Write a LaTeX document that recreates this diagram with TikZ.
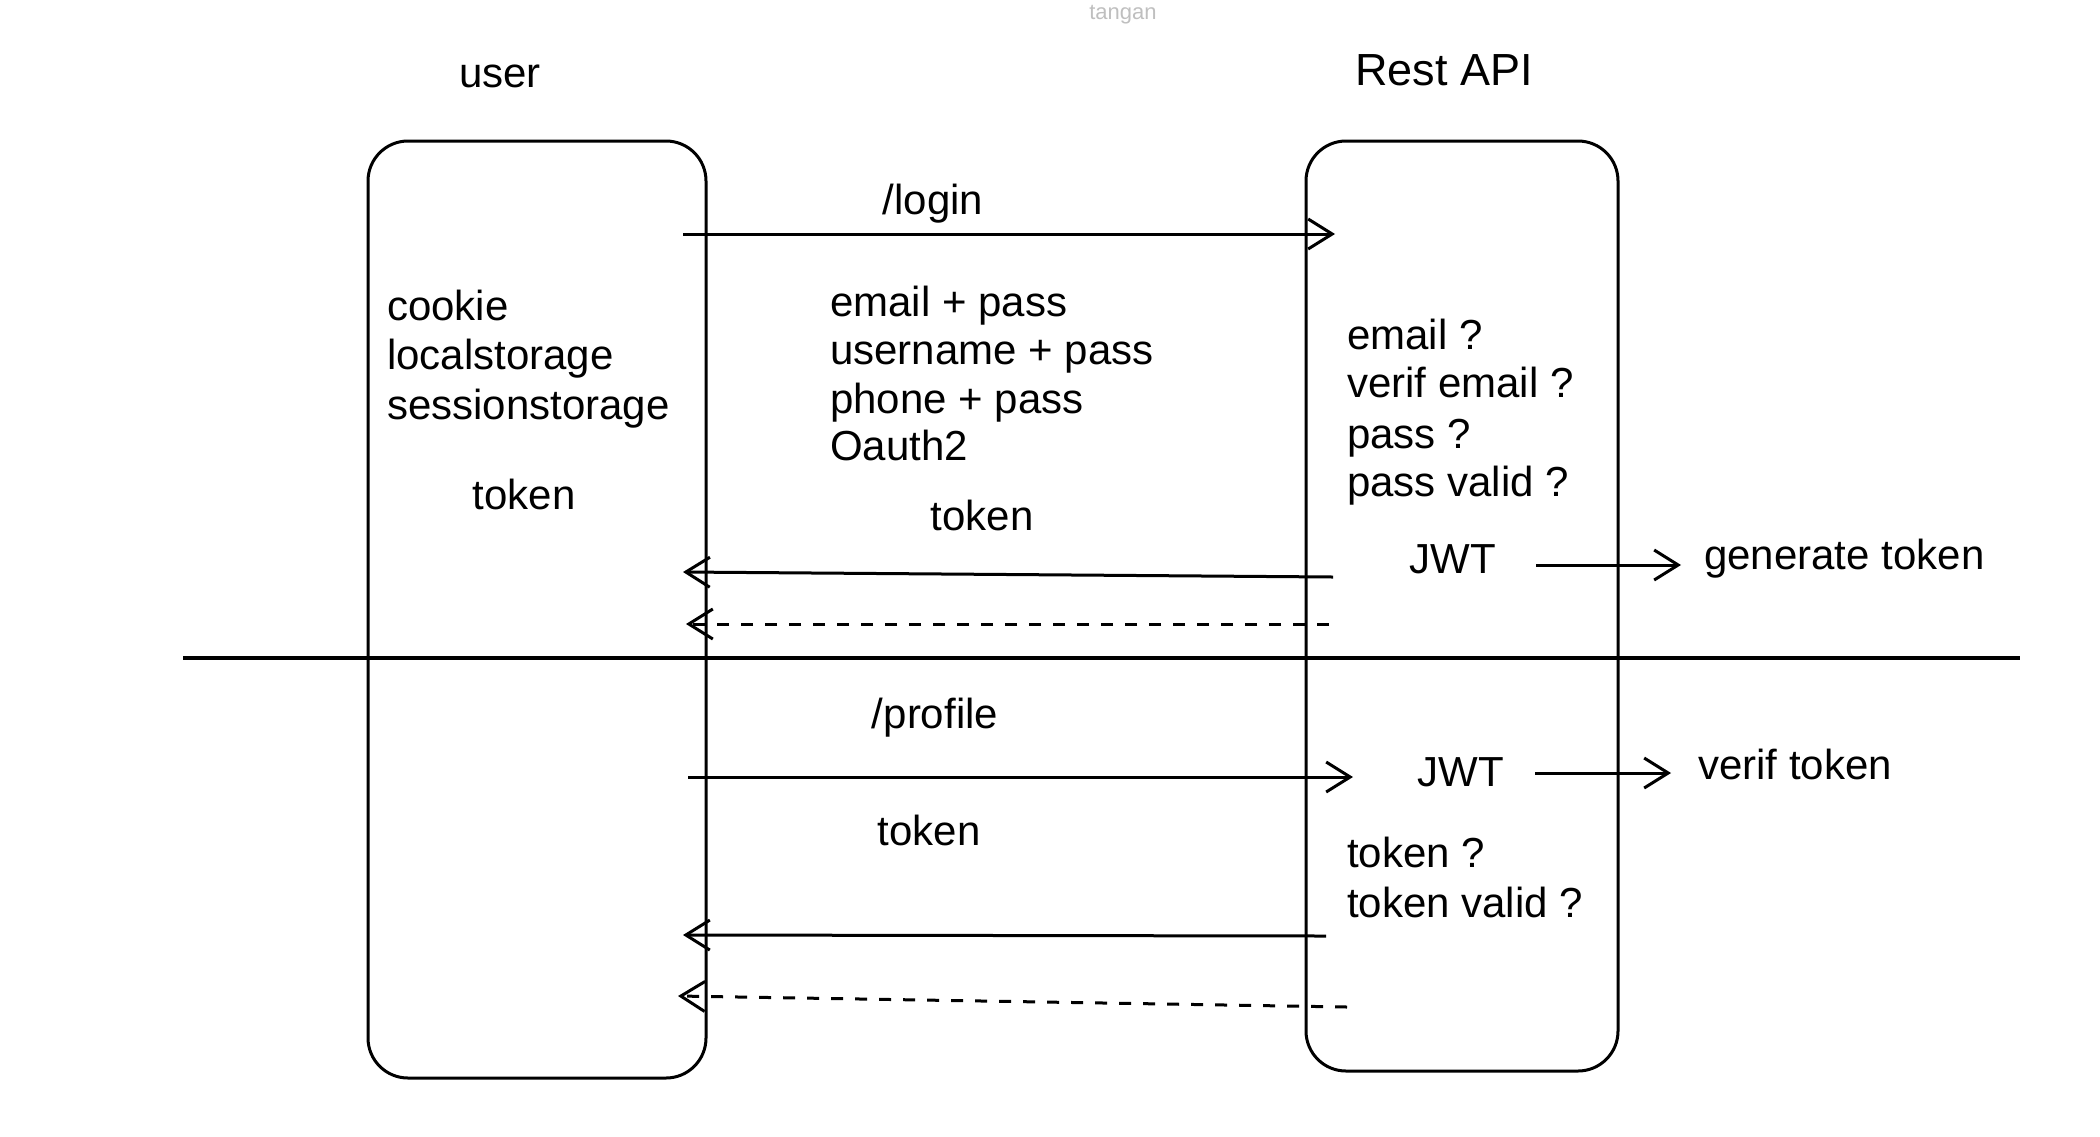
\documentclass[tikz,border=0pt]{standalone}
\usepackage{fontspec}
\setmainfont{Liberation Sans}
\usetikzlibrary{arrows.meta}
\begin{document}
\begin{tikzpicture}[x=1pt,y=-1pt,
  lbl/.style={font=\fontsize{42}{48}\selectfont, inner sep=0pt, anchor=base west},
  lblc/.style={font=\fontsize{42}{48}\selectfont, inner sep=0pt, anchor=base},
  box/.style={draw, line width=3pt, rounded corners=40pt},
  conn/.style={line width=3pt, -{Straight Barb[length=24pt,width=30pt,line width=3pt]}},
  dconn/.style={conn, dash pattern=on 12pt off 12pt}]
\useasboundingbox (0,0) rectangle (2100,1136);
% faint top label
\node[font=\fontsize{22}{26}\selectfont, text=black!25, inner sep=0pt, anchor=base] (tangan) at (1123,19) {tangan};
% titles
\node[lblc] (user) at (500,87) {user};
\node[lblc, font=\fontsize{45}{50}\selectfont] (api) at (1444,85) {Rest API};
% lifeline boxes
\draw[box] (368,141) rectangle (706,1078);
\draw[box] (1306,141) rectangle (1618,1071);
% separator
\coordinate (sepL) at (183,658);
\coordinate (sepR) at (2020,658);
\draw[line width=3.5pt] (sepL) -- (sepR);
% left storage text
\node[lbl] (cookie) at (387,320) {cookie};
\node[lbl] (local) at (387,369) {localstorage};
\node[lbl] (session) at (387,419) {sessionstorage};
\node[lblc] (utoken) at (524,509) {token};
% login
\node[lblc] (login) at (933,214) {/login};
\coordinate (l1s) at (683,234);
\coordinate (l1e) at (1335,234);
\draw[conn] (l1s) -- (l1e);
\node[lbl] (m1) at (830,316) {email + pass};
\node[lbl] (m2) at (830,364) {username + pass};
\node[lbl] (m3) at (830,413) {phone + pass};
\node[lbl] (m4) at (830,460) {Oauth2};
\node[lblc] (rtoken) at (982,530) {token};
\coordinate (r1s) at (1333,577);
\coordinate (r1e) at (683,572);
\draw[conn] (r1s) -- (r1e);
\coordinate (d1s) at (1329,624);
\coordinate (d1e) at (686,624);
\draw[dconn] (d1s) -- (d1e);
% API checks
\node[lbl] (c1) at (1347,349) {email ?};
\node[lbl] (c2) at (1347,397) {verif email ?};
\node[lbl] (c3) at (1347,448) {pass ?};
\node[lbl] (c4) at (1347,496) {pass valid ?};
\node[lblc] (jwt1) at (1453,573) {JWT};
\node[lbl] (gen) at (1704,569) {generate token};
\coordinate (g1s) at (1536,565);
\coordinate (g1e) at (1681,565);
\draw[conn] (g1s) -- (g1e);
% profile
\node[lblc] (profile) at (935,728) {/profile};
\coordinate (p1s) at (688,777);
\coordinate (p1e) at (1353,777);
\draw[conn] (p1s) -- (p1e);
\node[lblc] (ptoken) at (929,845) {token};
\node[lblc] (jwt2) at (1461,786) {JWT};
\node[lbl] (vt) at (1698,779) {verif token};
\coordinate (v1s) at (1535,773);
\coordinate (v1e) at (1671,773);
\draw[conn] (v1s) -- (v1e);
\node[lbl] (t1) at (1347,867) {token ?};
\node[lbl] (t2) at (1347,917) {token valid ?};
\coordinate (r2s) at (1326,936);
\coordinate (r2e) at (683,935);
\draw[conn] (r2s) -- (r2e);
\coordinate (d2s) at (1347,1007);
\coordinate (d2e) at (678,996);
\draw[dconn] (d2s) -- (d2e);
\end{tikzpicture}
\end{document}
